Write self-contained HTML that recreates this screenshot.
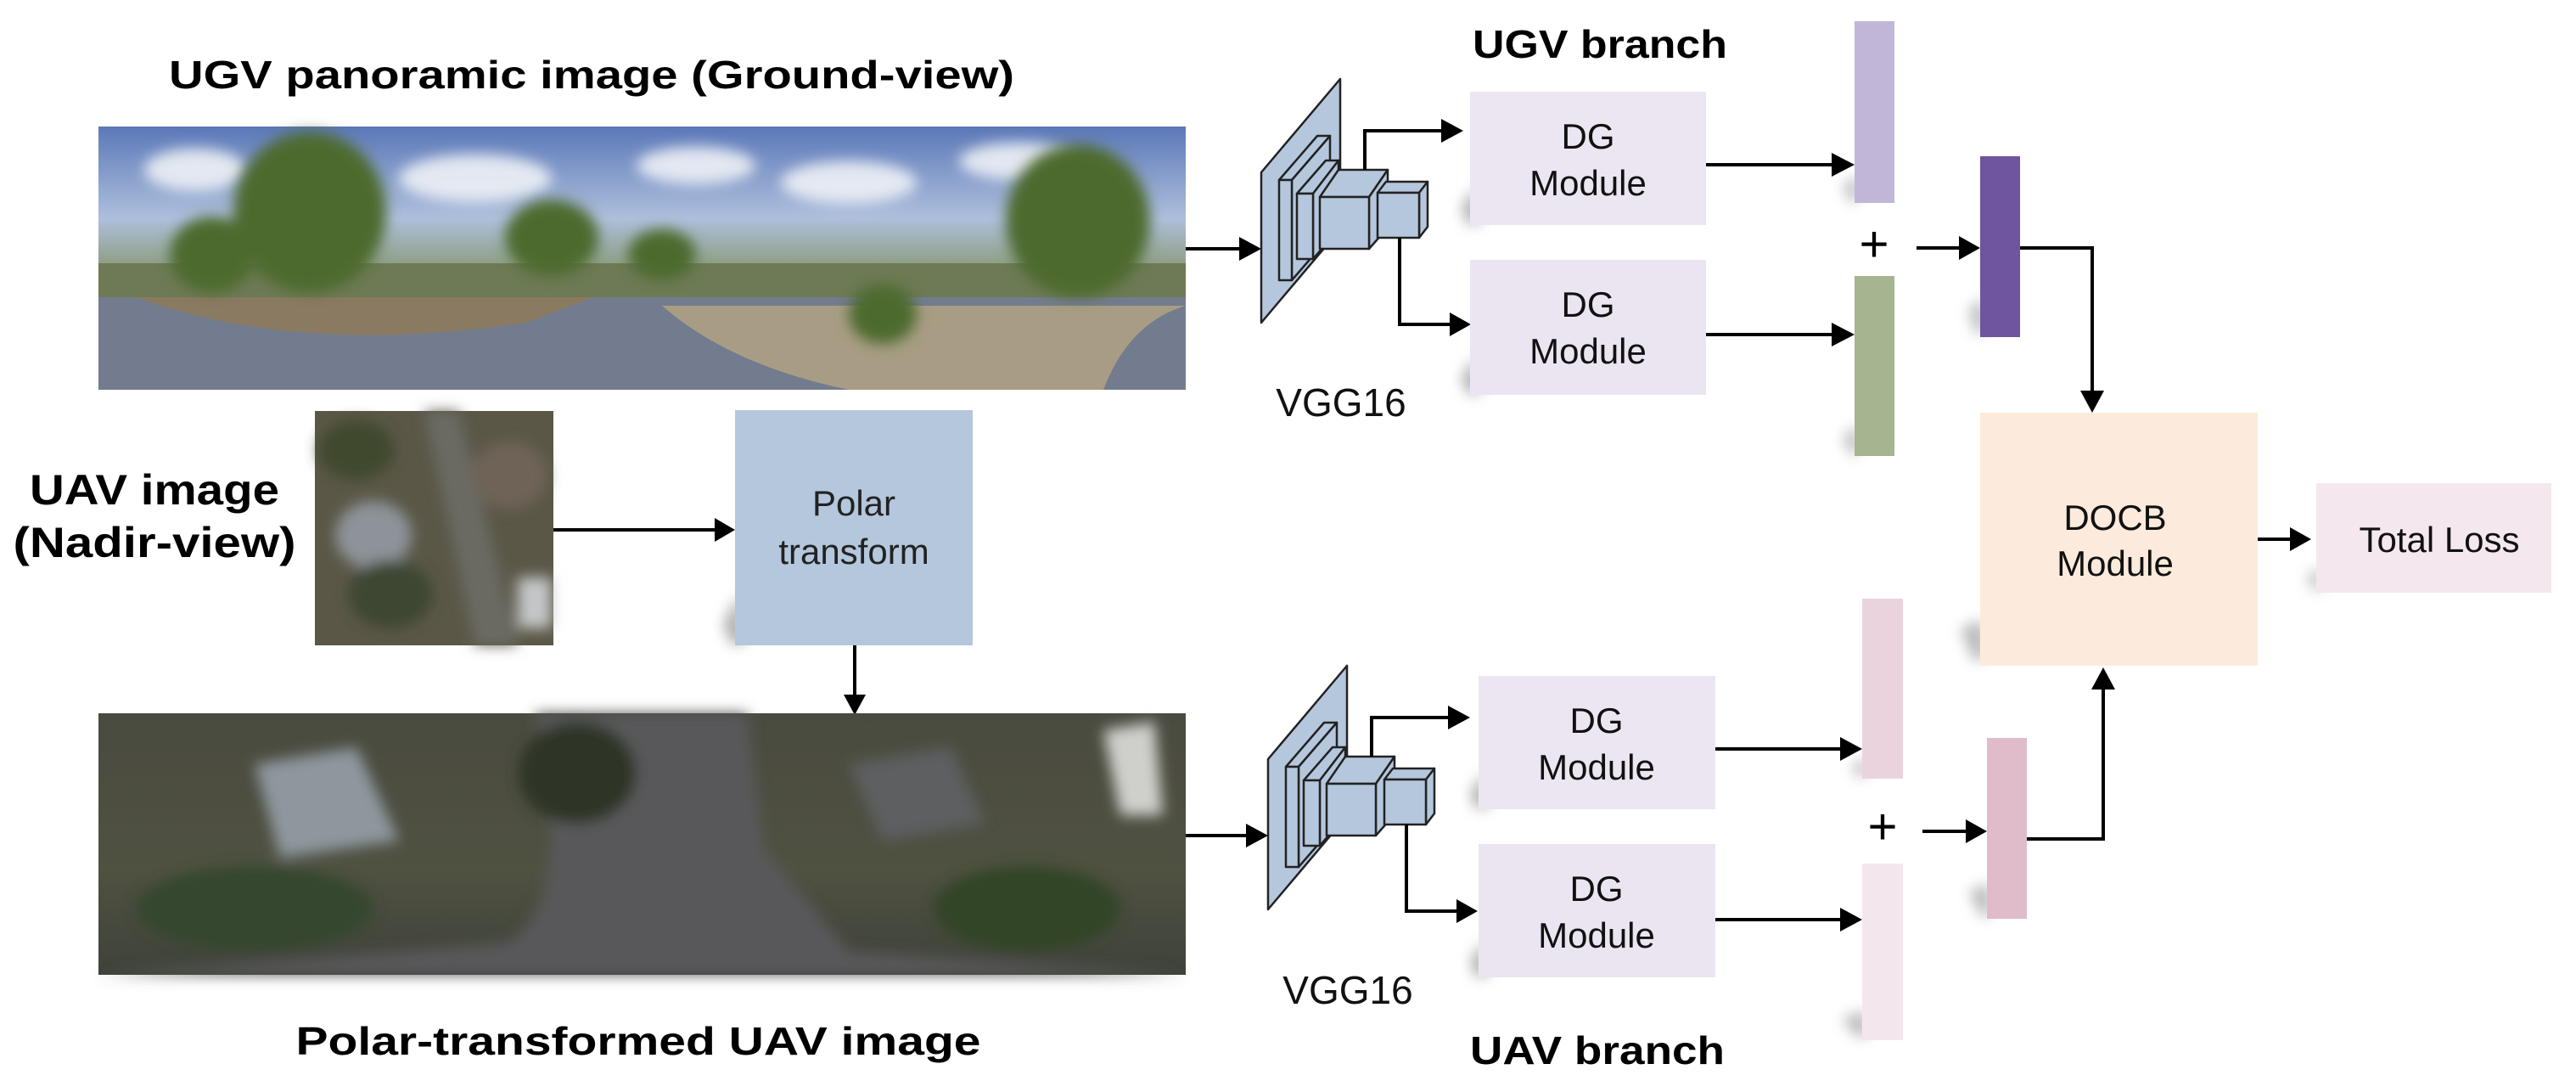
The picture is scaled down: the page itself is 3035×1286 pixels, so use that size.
<!DOCTYPE html>
<html><head><meta charset="utf-8"><style>
html,body{margin:0;padding:0;background:#fff;}
svg{display:block}
</style></head><body>
<svg width="3035" height="1286" viewBox="0 0 3035 1286" xmlns="http://www.w3.org/2000/svg">
<defs>
<linearGradient id="sky" x1="0" y1="0" x2="0" y2="1">
<stop offset="0" stop-color="#5b78b8"/><stop offset="0.35" stop-color="#aebfdc"/><stop offset="0.55" stop-color="#8a9a78"/><stop offset="0.7" stop-color="#7a7c70"/><stop offset="1" stop-color="#7d8a9c"/>
</linearGradient>
<linearGradient id="aer" x1="0" y1="0" x2="0" y2="1">
<stop offset="0" stop-color="#4a4b40"/><stop offset="0.6" stop-color="#4f5141"/><stop offset="1" stop-color="#3f423a"/>
</linearGradient>
<filter id="blur" x="-50%" y="-50%" width="200%" height="200%"><feGaussianBlur stdDeviation="8"/></filter>
<filter id="sb" x="-50%" y="-50%" width="200%" height="200%"><feGaussianBlur stdDeviation="8"/></filter>
</defs>
<rect width="3035" height="1286" fill="#fff"/>

<text x="697" y="104" font-family="Liberation Sans, sans-serif" font-weight="bold" font-size="46" text-anchor="middle" textLength="996" lengthAdjust="spacingAndGlyphs">UGV panoramic image (Ground-view)</text>
<text x="182" y="594" font-family="Liberation Sans, sans-serif" font-weight="bold" font-size="50" text-anchor="middle" textLength="294" lengthAdjust="spacingAndGlyphs">UAV image</text>
<text x="182" y="656" font-family="Liberation Sans, sans-serif" font-weight="bold" font-size="50" text-anchor="middle" textLength="333" lengthAdjust="spacingAndGlyphs">(Nadir-view)</text>
<text x="752" y="1242" font-family="Liberation Sans, sans-serif" font-weight="bold" font-size="46" text-anchor="middle" textLength="807" lengthAdjust="spacingAndGlyphs">Polar-transformed UAV image</text>

<g>
<rect x="116" y="149" width="1281" height="310" fill="url(#sky)"/>
<g fill="#eef1f6" opacity="0.9" filter="url(#blur)">
<ellipse cx="230" cy="200" rx="60" ry="25"/><ellipse cx="560" cy="210" rx="90" ry="28"/><ellipse cx="820" cy="195" rx="70" ry="22"/><ellipse cx="1000" cy="215" rx="80" ry="25"/><ellipse cx="1200" cy="190" rx="70" ry="22"/>
</g>
<rect x="116" y="310" width="1281" height="40" fill="#6d7a55"/>
<path d="M116 350 L1397 350 L1397 459 L116 459 Z" fill="#727c8e"/>
<path d="M160 350 Q350 420 620 380 L700 350 Z" fill="#8a7a62"/>
<path d="M780 360 Q860 430 1000 459 L1300 459 Q1330 380 1397 360 Z" fill="#a89d84"/>
<g fill="#4d6a2e" filter="url(#blur)">
<ellipse cx="365" cy="250" rx="90" ry="95"/><ellipse cx="250" cy="300" rx="50" ry="45"/><ellipse cx="650" cy="280" rx="55" ry="45"/><ellipse cx="1270" cy="260" rx="85" ry="90"/><ellipse cx="1040" cy="370" rx="40" ry="35"/><ellipse cx="780" cy="300" rx="40" ry="30"/>
</g>
</g>

<g>
<rect x="371" y="484" width="281" height="276" fill="#5a5747"/>
<g filter="url(#blur)">
<path d="M500 484 L540 484 L610 760 L560 760 Z" fill="#6b6a63"/>
<ellipse cx="440" cy="630" rx="45" ry="40" fill="#8d9399"/>
<ellipse cx="600" cy="560" rx="45" ry="40" fill="#6e6357"/>
<ellipse cx="420" cy="530" rx="45" ry="35" fill="#3f4a2f"/>
<ellipse cx="460" cy="700" rx="50" ry="40" fill="#3c4730"/>
<rect x="610" y="680" width="40" height="60" fill="#c4c6c8"/>
</g>
</g>

<path d="M870 700 L852 735 L862 760 L880 755 Z" fill="#999" filter="url(#sb)" opacity="0.8"/>
<rect x="866" y="483" width="280" height="277" fill="#b4c7dd"/>
<text x="1006" y="607" font-family="Liberation Sans, sans-serif" font-size="42" text-anchor="middle" fill="#222">Polar</text>
<text x="1006" y="664" font-family="Liberation Sans, sans-serif" font-size="42" text-anchor="middle" fill="#222">transform</text>
<path d="M652 624 L842 624" stroke="#000" stroke-width="4"/>
<path d="M842 610 L866 624 L842 638 Z" fill="#000"/>
<path d="M1007 760 L1007 820" stroke="#000" stroke-width="4"/>
<path d="M994 818 L1007 842 L1020 818 Z" fill="#000"/>

<g>
<rect x="116" y="840" width="1281" height="308" fill="url(#aer)"/>
<g filter="url(#blur)">
<path d="M630 840 L880 840 L900 1000 L1000 1120 L1397 1148 L116 1148 L600 1110 Q680 1050 630 840 Z" fill="#59585a"/>
<path d="M300 900 L420 880 L470 990 L330 1010 Z" fill="#8e979e"/>
<path d="M1000 900 L1120 880 L1160 970 L1040 990 Z" fill="#5d5f60"/>
<ellipse cx="680" cy="910" rx="70" ry="60" fill="#2f3427"/>
<ellipse cx="1210" cy="1070" rx="110" ry="50" fill="#304427"/>
<ellipse cx="300" cy="1070" rx="140" ry="50" fill="#34472d"/>
<path d="M1300 860 L1360 850 L1370 960 L1320 960 Z" fill="#cfd0cc"/>
</g>
</g>

<path d="M1397 293 L1462 293" stroke="#000" stroke-width="4"/>
<path d="M1460 279 L1486 293 L1460 307 Z" fill="#000"/>
<path d="M1397 984 L1470 984" stroke="#000" stroke-width="4"/>
<path d="M1468 970 L1494 984 L1468 998 Z" fill="#000"/>

<g id="vgg" stroke="#222" stroke-width="2.5" fill="#b4c7dd" stroke-linejoin="round">
<path d="M1486 203 L1579 93 L1579 270 L1486 380 Z"/>
<path d="M1507 212 L1552 160 L1567 160 L1522 212 Z"/>
<path d="M1522 212 L1567 160 L1567 278 L1522 330 Z"/>
<rect x="1507" y="212" width="15" height="118"/>
<path d="M1528 228 L1562 189 L1577 189 L1547 228 Z"/>
<path d="M1547 228 L1577 189 L1577 270 L1547 305 Z"/>
<rect x="1528" y="228" width="19" height="77"/>
<path d="M1555 232 L1577 200 L1635 200 L1613 232 Z"/>
<path d="M1613 232 L1635 200 L1635 268 L1613 293 Z"/>
<rect x="1555" y="232" width="58" height="61"/>
<path d="M1623 227 L1633 214 L1682 214 L1672 227 Z"/>
<path d="M1672 227 L1682 214 L1682 267 L1672 280 Z"/>
<rect x="1623" y="227" width="49" height="53"/>
</g>
<use href="#vgg" transform="translate(8,691)"/>

<text x="1580" y="490" font-family="Liberation Sans, sans-serif" font-size="46" text-anchor="middle" fill="#111">VGG16</text>
<text x="1588" y="1182" font-family="Liberation Sans, sans-serif" font-size="46" text-anchor="middle" fill="#111">VGG16</text>

<g id="conn">
<path d="M1608 200 L1608 154 L1700 154" stroke="#000" stroke-width="4" fill="none"/>
<path d="M1698 140 L1724 154 L1698 168 Z" fill="#000"/>
<path d="M1649 280 L1649 382 L1710 382" stroke="#000" stroke-width="4" fill="none"/>
<path d="M1708 368 L1733 382 L1708 396 Z" fill="#000"/>
</g>
<use href="#conn" transform="translate(8,691)"/>

<g font-family="Liberation Sans, sans-serif" font-size="42" text-anchor="middle" fill="#111">
<path d="M1738 220 L1722 245 L1730 265 L1745 262 Z" fill="#999" filter="url(#sb)" opacity="0.8"/>
<rect x="1732" y="108" width="278" height="157" fill="#ece6f2"/>
<text x="1871" y="175">DG</text><text x="1871" y="230">Module</text>
<path d="M1738 420 L1722 445 L1730 465 L1745 462 Z" fill="#999" filter="url(#sb)" opacity="0.8"/>
<rect x="1732" y="306" width="278" height="159" fill="#ebe5f2"/>
<text x="1871" y="373">DG</text><text x="1871" y="428">Module</text>

<path d="M1748 910 L1732 935 L1740 953 L1755 950 Z" fill="#999" filter="url(#sb)" opacity="0.8"/>
<rect x="1742" y="796" width="279" height="157" fill="#ece6f2"/>
<text x="1881" y="863">DG</text><text x="1881" y="918">Module</text>
<path d="M1748 1108 L1732 1133 L1740 1151 L1755 1148 Z" fill="#999" filter="url(#sb)" opacity="0.8"/>
<rect x="1742" y="994" width="279" height="157" fill="#ebe5f2"/>
<text x="1881" y="1061">DG</text><text x="1881" y="1116">Module</text>
</g>
<text x="1885" y="68" font-family="Liberation Sans, sans-serif" font-weight="bold" font-size="46" text-anchor="middle" textLength="300" lengthAdjust="spacingAndGlyphs">UGV branch</text>
<text x="1882" y="1253" font-family="Liberation Sans, sans-serif" font-weight="bold" font-size="46" text-anchor="middle" textLength="300" lengthAdjust="spacingAndGlyphs">UAV branch</text>

<g stroke="#000" stroke-width="4">
<path d="M2010 194 L2160 194"/><path d="M2010 394 L2160 394"/>
<path d="M2021 882 L2170 882"/><path d="M2021 1083 L2170 1083"/>
<path d="M2258 292 L2310 292"/><path d="M2265 979 L2318 979"/>
<path d="M2380 292 L2465 292 L2465 462" fill="none"/>
<path d="M2388 988 L2478 988 L2478 810" fill="none"/>
<path d="M2660 635 L2700 635"/>
</g>
<g fill="#000">
<path d="M2158 180 L2185 194 L2158 208 Z"/><path d="M2158 380 L2185 394 L2158 408 Z"/>
<path d="M2168 868 L2194 882 L2168 896 Z"/><path d="M2168 1069 L2194 1083 L2168 1097 Z"/>
<path d="M2308 278 L2333 292 L2308 306 Z"/><path d="M2316 965 L2341 979 L2316 993 Z"/>
<path d="M2451 460 L2465 486 L2479 460 Z"/>
<path d="M2464 812 L2478 786 L2492 812 Z"/>
<path d="M2698 621 L2723 635 L2698 649 Z"/>
</g>

<g fill="#999" filter="url(#sb)" opacity="0.7">
<path d="M2188 205 L2172 220 L2180 238 L2190 235 Z"/>
<path d="M2188 500 L2172 515 L2180 535 L2190 533 Z"/>
<path d="M2336 350 L2320 365 L2328 393 L2340 390 Z"/>
<path d="M2336 730 L2310 740 L2325 778 L2340 775 Z"/>
<path d="M2197 890 L2182 905 L2190 915 L2200 913 Z"/>
<path d="M2197 1190 L2170 1200 L2190 1222 L2200 1220 Z"/>
<path d="M2344 1040 L2320 1050 L2335 1080 L2345 1078 Z"/>
<path d="M2732 668 L2718 680 L2728 696 L2735 694 Z"/>
</g>

<rect x="2185" y="25" width="47" height="214" fill="#c2b6d8"/>
<rect x="2185" y="325" width="47" height="212" fill="#a4b590"/>
<rect x="2333" y="184" width="47" height="213" fill="#6f54a0"/>
<rect x="2194" y="705" width="48" height="212" fill="#ebd3dd"/>
<rect x="2194" y="1017" width="48" height="208" fill="#f3e7ed"/>
<rect x="2341" y="869" width="47" height="213" fill="#e0bccb"/>
<text x="2208" y="308" font-family="Liberation Sans, sans-serif" font-size="60" text-anchor="middle">+</text>
<text x="2218" y="994" font-family="Liberation Sans, sans-serif" font-size="60" text-anchor="middle">+</text>

<rect x="2333" y="486" width="327" height="298" fill="#fcebdc"/>
<text x="2492" y="624" font-family="Liberation Sans, sans-serif" font-size="42" text-anchor="middle" fill="#111">DOCB</text>
<text x="2492" y="678" font-family="Liberation Sans, sans-serif" font-size="42" text-anchor="middle" fill="#111">Module</text>

<rect x="2729" y="569" width="277" height="129" fill="#f4e8ee"/>
<text x="2874" y="650" font-family="Liberation Sans, sans-serif" font-size="42" text-anchor="middle" fill="#111">Total Loss</text>
</svg>
</body></html>
